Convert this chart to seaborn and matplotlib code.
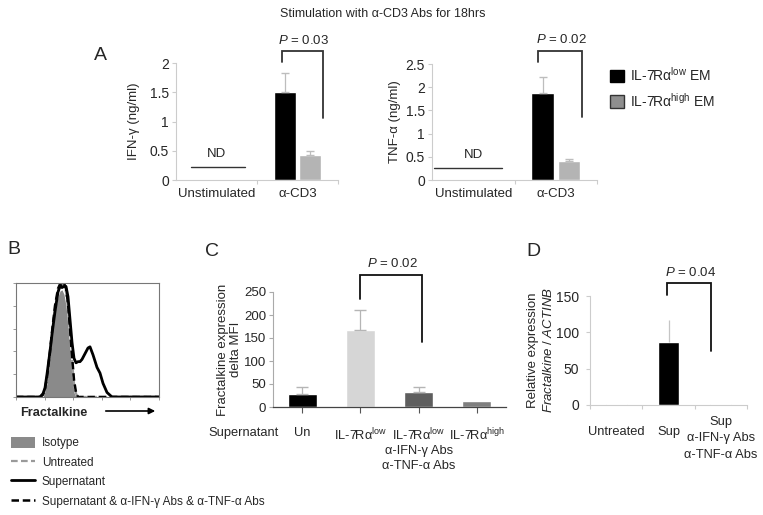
import numpy as np
import pandas as pd
import matplotlib
matplotlib.use("Agg")
import matplotlib.pyplot as plt
import seaborn as sns
from matplotlib.patches import Patch
from matplotlib.lines import Line2D

sns.set_theme(style="white")
plt.rcParams["font.family"] = ["Liberation Sans", "DejaVu Sans"]
plt.rcParams["mathtext.fontset"] = "custom"
plt.rcParams["mathtext.rm"] = "Liberation Sans"
plt.rcParams["mathtext.it"] = "Liberation Sans:italic"

# ---- panel A data (ng/ml) ----
stim_conditions = ["Unstimulated", "α-CD3"]
subsets = ["IL-7Rα$^{\\mathrm{low}}$ EM", "IL-7Rα$^{\\mathrm{high}}$ EM"]
ifn_low = [np.nan, 1.50]
ifn_low_err = [np.nan, 0.33]
ifn_high = [np.nan, 0.43]
ifn_high_err = [np.nan, 0.07]
tnf_low = [np.nan, 1.87]
tnf_low_err = [np.nan, 0.35]
tnf_high = [np.nan, 0.42]
tnf_high_err = [np.nan, 0.03]
ifn_nd_level = 0.22
tnf_nd_level = 0.25

# ---- panel B data (flow histogram, % of max) ----
fl_channel = [0, 24, 27, 29, 31, 34, 36, 39, 42, 44, 46, 48, 50, 52, 54, 56,
              58, 60, 62, 64, 66, 69, 72, 74, 77, 81, 84, 87, 91, 96, 143]
hist_isotype = [0, 0, 0, 5, 12, 35, 52, 75, 88, 93, 94, 90, 80, 62, 40, 18,
                4, 0, 0, 0, 0, 0, 0, 0, 0, 0, 0, 0, 0, 0, 0]
hist_untreated = [0, 0, 1, 6, 15, 38, 55, 78, 93, 98, 99, 99, 92, 78, 55, 32,
                  12, 3, 0, 0, 0, 0, 0, 0, 0, 0, 0, 0, 0, 0, 0]
hist_sup = [0, 0, 3, 8, 20, 40, 55, 75, 92, 97, 96, 97, 97, 88, 68, 48,
            34, 30, 31, 31, 33, 38, 43, 44, 37, 26, 21, 12, 4, 0, 0]
hist_sup_block = [0, 0, 2, 7, 17, 40, 57, 80, 95, 99, 98, 100, 95, 82, 60, 36,
                  15, 4, 0, 0, 0, 0, 0, 0, 0, 0, 0, 0, 0, 0, 0]
hist_labels = ["Isotype", "Untreated", "Supernatant",
               "Supernatant & α-IFN-γ Abs & α-TNF-α Abs"]

# ---- panel C data (delta MFI) ----
c_groups = ["Un", "IL-7Rα$^{\\mathrm{low}}$", "IL-7Rα$^{\\mathrm{low}}$",
            "IL-7Rα$^{\\mathrm{high}}$"]
c_group_notes = ["", "", "α-IFN-γ Abs\nα-TNF-α Abs", ""]
c_values = [28, 168, 33, 12]
c_err = [15, 42, 11, 0]
c_colors = ["#000000", "#d6d6d6", "#5e5e5e", "#7f7f7f"]

# ---- panel D data (relative expression) ----
d_groups = ["Untreated", "Sup", "Sup\nα-IFN-γ Abs\nα-TNF-α Abs"]
d_values = [1, 87, 1]
d_err = [0, 30, 0]

W, H = 763, 515
fig = plt.figure(figsize=(W / 100, H / 100), dpi=100)


def box(x0, y0, x1, y1):
    return [x0 / W, 1 - y1 / H, (x1 - x0) / W, (y1 - y0) / H]


def bracket(ax, xl, xr, top, yl, yr, text, ty, color="#333333"):
    ax.plot([xl, xl, xr, xr], [yl, top, top, yr], color=color, lw=1.3,
            clip_on=False, solid_joinstyle="miter")
    ax.text((xl + xr) / 2 + 0.02, ty, text, ha="center", va="center",
            fontsize=9.5, clip_on=False)


def cytokine_panel(ax, low, low_err, high, high_err, nd, ymax, yticks,
                   ylabel, br, lab_x):
    df = pd.DataFrame({"condition": stim_conditions * 2,
                       "subset": [subsets[0]] * 2 + [subsets[1]] * 2,
                       "value": low + high}).dropna()
    sns.barplot(data=df, x="condition", y="value", hue="subset",
                order=stim_conditions, hue_order=subsets,
                palette=["#000000", "#b4b4b4"], width=0.64, gap=0.15,
                errorbar=None, legend=False, ax=ax)
    for cont, errs in zip(ax.containers, [low_err, high_err]):
        errs = [e for e in errs if not np.isnan(e)]
        for bar, e in zip(cont, errs):
            xc = bar.get_x() + bar.get_width() / 2
            ax.errorbar(xc, bar.get_height(), yerr=[[0], [e]], fmt="none",
                        ecolor="#bdbdbd", elinewidth=0.9, capsize=3)
    ax.plot([-0.32 if nd < 0.24 else -0.48, 0.35], [nd, nd], color="#333333", lw=1)
    ax.text(0.0, nd + (0.22 if ymax < 2.2 else 0.29), "ND", ha="center",
            va="center", fontsize=9.5)
    ax.set_xlim(-0.5, 1.5)
    ax.set_ylim(0, ymax)
    ax.set_yticks(yticks)
    ax.set_yticklabels([f"{t:g}" for t in yticks])
    ax.set_xticks([0, 1])
    ax.set_xticklabels(stim_conditions)
    ax.set_xticks([0.5, 1.5], minor=True)
    ax.set_xlabel("")
    ax.set_ylabel(ylabel, fontsize=9.5)
    ax.yaxis.set_label_coords(lab_x, 0.5)
    for s in ["top", "right"]:
        ax.spines[s].set_visible(False)
    for s in ["left", "bottom"]:
        ax.spines[s].set_color("#cccccc")
        ax.spines[s].set_linewidth(0.8)
    ax.tick_params(axis="y", left=True, length=3, width=0.8, color="#cccccc",
                   labelsize=10, pad=2)
    ax.tick_params(axis="x", which="major", bottom=True, length=0,
                   labelsize=9.5, pad=6)
    ax.tick_params(axis="x", which="minor", bottom=True, length=3, width=0.8,
                   color="#cccccc")
    bracket(ax, *br)


fig.text(383 / W, 1 - 14 / H, "Stimulation with α-CD3 Abs for 18hrs",
         ha="center", va="center", fontsize=9)

ax1 = fig.add_axes(box(176, 63, 338, 180))
cytokine_panel(ax1, ifn_low, ifn_low_err, ifn_high, ifn_high_err, ifn_nd_level,
               2, [0, 0.5, 1, 1.5, 2], "IFN-γ (ng/ml)",
               (0.81, 1.31, 2.2, 2.02, 1.06, "$P$ = 0.03", 2.39), -0.22)

ax2 = fig.add_axes(box(432, 64, 597, 180))
cytokine_panel(ax2, tnf_low, tnf_low_err, tnf_high, tnf_high_err, tnf_nd_level,
               2.5, [0, 0.5, 1, 1.5, 2, 2.5], "TNF-α (ng/ml)",
               (0.785, 1.32, 2.78, 2.54, 1.36, "$P$ = 0.02", 3.02), -0.19)

fig.legend(handles=[Patch(facecolor="#000000", edgecolor="#000000"),
                    Patch(facecolor="#8f8f8f", edgecolor="#333333")],
           labels=subsets, loc="upper left",
           bbox_to_anchor=(610 / W, 1 - 66 / H), frameon=False, fontsize=10,
           handlelength=1.0, handleheight=1.0, handletextpad=0.45,
           labelspacing=0.55, borderpad=0, borderaxespad=0)

# ---- panel B ----
axb = fig.add_axes(box(16, 283, 159, 397))
axb.fill_between(fl_channel, hist_isotype, color="#8a8a8a", lw=0)
axb.plot(fl_channel, hist_untreated, color="#9a9a9a", lw=1.6, ls=(0, (3, 1.5)))
axb.plot(fl_channel, hist_sup, color="black", lw=2.0)
axb.plot(fl_channel, hist_sup_block, color="black", lw=1.8, ls=(0, (3, 1.5)))
axb.set_xlim(0, 143)
axb.set_ylim(0, 100)
axb.set_yticks(np.linspace(0, 100, 6))
axb.set_xticks(np.linspace(0, 143, 6))
axb.set_xticklabels([])
axb.set_yticklabels([])
axb.tick_params(left=True, bottom=True, length=2, width=0.6, color="#888888")
for s in axb.spines.values():
    s.set_color("#777777")
    s.set_linewidth(0.8)
fig.text(20 / W, 1 - 413 / H, "Fractalkine", ha="left", va="center",
         fontsize=9.2, fontweight="bold")
fig.add_artist(matplotlib.patches.FancyArrowPatch(
    (103 / W, 1 - 411 / H), (158 / W, 1 - 411 / H), transform=fig.transFigure,
    arrowstyle="-|>", mutation_scale=9, color="black", lw=1.2))
fig.legend(handles=[Patch(facecolor="#8a8a8a", edgecolor="none"),
                    Line2D([], [], color="#9a9a9a", lw=1.6, ls=(0, (3, 1.5))),
                    Line2D([], [], color="black", lw=2.0),
                    Line2D([], [], color="black", lw=1.8, ls=(0, (3, 1.5)))],
           labels=hist_labels, loc="upper left",
           bbox_to_anchor=(11 / W, 1 - 437 / H), frameon=False, fontsize=8.5,
           handlelength=2.0, handleheight=1.0, handletextpad=0.6,
           labelspacing=0.6, borderpad=0, borderaxespad=0)

# ---- panel C ----
axc = fig.add_axes(box(273, 292, 506, 407))
sns.barplot(x=list(range(4)), y=c_values, hue=list(range(4)), palette=c_colors,
            width=0.5, legend=False, errorbar=None, ax=axc)
for cont, e in zip(axc.containers, c_err):
    bar = cont[0]
    if e > 0:
        axc.errorbar(bar.get_x() + bar.get_width() / 2, bar.get_height(),
                     yerr=[[0], [e]], fmt="none", ecolor="#b5b5b5",
                     elinewidth=0.9, capsize=4)
axc.set_xlim(-0.5, 3.5)
axc.set_ylim(0, 250)
axc.set_yticks([0, 50, 100, 150, 200, 250])
axc.set_xticks(range(4))
axc.set_xticklabels([])
axc.set_ylabel("Fractalkine expression\ndelta MFI", fontsize=9.5, linespacing=1.1)
axc.yaxis.set_label_coords(-0.135, 0.5)
for s in ["top", "right"]:
    axc.spines[s].set_visible(False)
axc.spines["left"].set_color("#aaaaaa")
axc.spines["bottom"].set_color("#444444")
axc.spines["left"].set_linewidth(0.8)
axc.spines["bottom"].set_linewidth(0.9)
axc.tick_params(axis="y", left=True, length=3, width=0.8, color="#aaaaaa",
                labelsize=9.5, pad=2)
axc.tick_params(axis="x", bottom=True, length=4, width=0.8, color="#555555")
for i, (lab, note) in enumerate(zip(c_groups, c_group_notes)):
    axc.text(i, -0.17, lab, transform=axc.get_xaxis_transform(), ha="center",
             va="top", fontsize=9.3)
    if note:
        axc.text(i, -0.33, note, transform=axc.get_xaxis_transform(),
                 ha="center", va="top", fontsize=9.3, linespacing=1.35)
axc.text(-0.128, -0.17, "Supernatant", transform=axc.transAxes, ha="center",
         va="top", fontsize=9.3)
bracket(axc, 1, 2.05, 287, 235, 141, "$P$ = 0.02", 313, color="#111111")

# ---- panel D ----
axd = fig.add_axes(box(590, 296, 747, 405))
sns.barplot(x=d_groups, y=d_values, color="black", width=0.4,
            errorbar=None, ax=axd)
for bar, e in zip(axd.containers[0], d_err):
    if e > 0:
        axd.errorbar(bar.get_x() + bar.get_width() / 2, bar.get_height(),
                     yerr=[[0], [e]], fmt="none", ecolor="#c5c5c5",
                     elinewidth=0.9, capsize=0)
axd.set_xlim(-0.5, 2.5)
axd.set_ylim(0, 150)
axd.set_yticks([0, 50, 100, 150])
axd.set_xticks(range(3))
axd.set_xticklabels([])
axd.set_xticks([-0.5, 0.5, 1.5, 2.5], minor=True)
axd.set_ylabel("Relative expression\n$Fractalkine$ / $ACTINB$", fontsize=9.5,
               linespacing=1.35)
axd.yaxis.set_label_coords(-0.22, 0.5)
for s in ["top", "right"]:
    axd.spines[s].set_visible(False)
for s in ["left", "bottom"]:
    axd.spines[s].set_color("#cccccc")
    axd.spines[s].set_linewidth(0.8)
axd.tick_params(axis="y", left=True, length=3, width=0.8, color="#cccccc",
                labelsize=10, pad=5)
axd.tick_params(axis="x", which="major", bottom=False)
axd.tick_params(axis="x", which="minor", bottom=True, length=3, width=0.8,
                color="#cccccc")
d_label_y = [-0.25, -0.25, -0.1]
for i, lab in enumerate(d_groups):
    axd.text(i, d_label_y[i], lab, transform=axd.get_xaxis_transform(),
             ha="center", va="top" if "\n" in lab else "center",
             fontsize=9.3, linespacing=1.5)
bracket(axd, 0.98, 1.81, 168, 151, 74, "$P$ = 0.04", 183, color="#111111")

# panel letters
for letter, (px, py) in {"A": (100, 55), "B": (14, 250), "C": (212, 252),
                         "D": (533, 252)}.items():
    fig.text(px / W, 1 - py / H, letter, ha="center", va="center", fontsize=14)

fig.savefig("out.png", dpi=100)
